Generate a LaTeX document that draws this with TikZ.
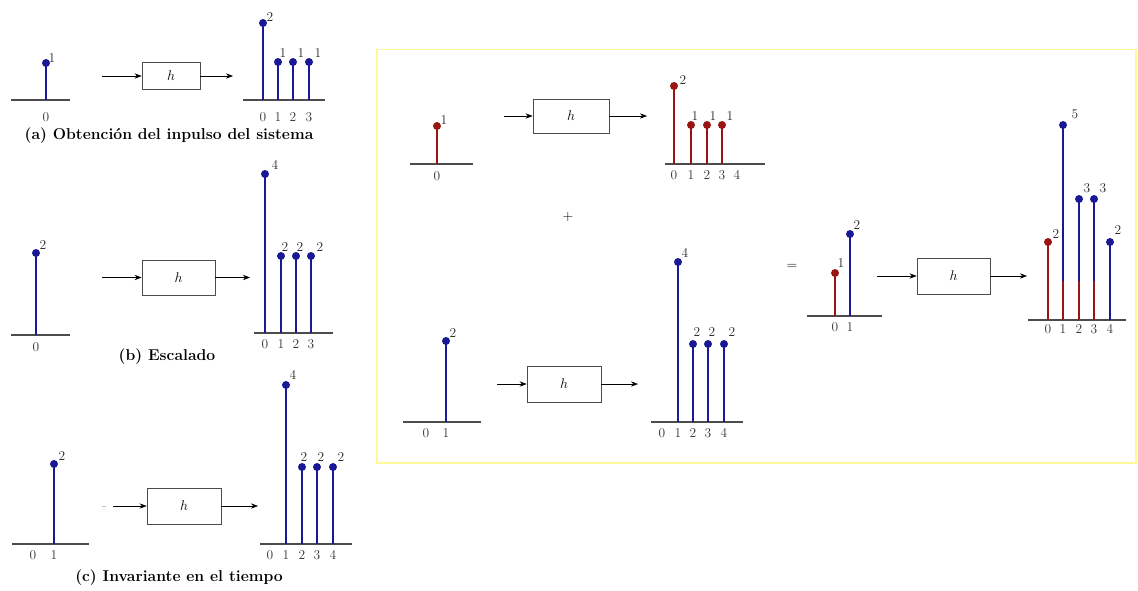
\documentclass[tikz,border=0pt]{standalone}
\usepackage{tikz}
\usetikzlibrary{arrows.meta,positioning}
\definecolor{sigblue}{RGB}{25,25,150}
\definecolor{sigred}{RGB}{155,20,20}
\definecolor{panelyellow}{RGB}{255,248,150}
\tikzset{
    axisline/.style={line width=1.5pt, black!70},
    stemline/.style={line width=2.5pt},
    sysbox/.style={draw=black!70, line width=0.6pt, inner sep=0pt, font=\fontsize{11.5}{14}\selectfont},
    sigarrow/.style={
        line width=0.5pt,
        black,
        ->,
        >={Stealth[length=6pt, width=4.5pt]}
    },
    val/.style={inner sep=0pt, black!85, font=\fontsize{11.5}{14}\selectfont},
    ticklbl/.style={inner sep=0pt, black!80, font=\fontsize{11.5}{14}\selectfont},
    capt/.style={font=\fontsize{13.4}{16}\selectfont\bfseries}
}
% stem from base #4 up to #2 at abscissa #1, colour #3
\newcommand{\stemdot}[4]{%
    \draw[stemline, #3] (#1,#4) -- (#1,#2);
    \fill[#3] (#1,#2) circle (3.4pt);}

\begin{document}
\begin{tikzpicture}[x=0.3mm, y=-0.3mm]
    \useasboundingbox (0,0) rectangle (1138,590);

    % (a) impulse response
    \draw[axisline] (11,100) -- (70,100);
    \stemdot{46}{63}{sigblue}{100}
    \node[val] (vA) at (52,58) {1};
    \node[ticklbl] (tA) at (46,117) {0};
    \node[sysbox, minimum width=17.4mm, minimum height=8.1mm] (hA) at (171,76) {$h$};
    \coordinate (inA) at (102,76);
    \coordinate (outA) at (233,76);
    \draw[sigarrow] (inA) -- (hA.west);
    \draw[sigarrow] (hA.east) -- (outA);
    \draw[axisline] (243,100) -- (325,100);
    \foreach \x/\t/\v/\lx/\ly [count=\i] in {263/23/2/270/17, 278/62/1/283/53, 293/62/1/301/53, 309/62/1/318/53}{
        \stemdot{\x}{\t}{sigblue}{100}
        \node[val] (yA\i) at (\lx,\ly) {\v};
        \node[ticklbl] (nA\i) at (\x,117) {\number\numexpr\i-1\relax};
    }
    \node[capt] (capA) at (169,136) {(a) Obtención del inpulso del sistema};

    % (b) scaling
    \draw[axisline] (11,335) -- (70,335);
    \stemdot{36}{253}{sigblue}{335}
    \node[val] (vB) at (43,245) {2};
    \node[ticklbl] (tB) at (36,347) {0};
    \node[sysbox, minimum width=21.9mm, minimum height=10.5mm] (hB) at (178.5,277.5) {$h$};
    \coordinate (inB) at (102,277.5);
    \coordinate (outB) at (250,277.5);
    \draw[sigarrow] (inB) -- (hB.west);
    \draw[sigarrow] (hB.east) -- (outB);
    \draw[axisline] (254,333) -- (333,333);
    \foreach \x/\t/\v/\lx [count=\i] in {265/174/4/275, 281/256/2/285, 296/256/2/300, 311/256/2/320}{
        \stemdot{\x}{\t}{sigblue}{333}
        \node[val] (yB\i) at (\lx,\t-9) {\v};
        \node[ticklbl] (nB\i) at (\x,344) {\number\numexpr\i-1\relax};
    }
    \node[capt] (capB) at (167,357) {(b) Escalado};

    % (c) time shift
    \draw[axisline] (12,544) -- (89,544);
    \stemdot{54}{464}{sigblue}{544}
    \node[val] (vC) at (62,456) {2};
    \node[ticklbl] (tC0) at (33,555) {0};
    \node[ticklbl] (tC1) at (54,555) {1};
    \draw[black!25, line width=0.5pt] (102,506) -- (106,506);
    \node[sysbox, minimum width=22.2mm, minimum height=10.8mm] (hC) at (184,506) {$h$};
    \coordinate (inC) at (113,506);
    \coordinate (outC) at (258,506);
    \draw[sigarrow] (inC) -- (hC.west);
    \draw[sigarrow] (hC.east) -- (outC);
    \draw[axisline] (260,544) -- (352,544);
    \foreach \x/\t/\v/\lx [count=\i] in {286/385/4/293, 302/467/2/304, 317/467/2/321, 333/467/2/341}{
        \stemdot{\x}{\t}{sigblue}{544}
        \node[val] (yC\i) at (\lx,\t-10) {\v};
    }
    \foreach \x [count=\i from 0] in {270,286,302,317,333}
        \node[ticklbl] (nC\i) at (\x,555) {\i};
    \node[capt] (capC) at (179,578) {(c) Invariante en el tiempo};

    % linearity panel
    \draw[panelyellow, line width=1pt] (377,49.5) rectangle (1136,463);

    % upper row, red input
    \draw[axisline] (410,164) -- (473,164);
    \stemdot{437}{126}{sigred}{164}
    \node[val] (vR) at (444,120) {1};
    \node[ticklbl] (tR) at (437,176) {0};
    \node[sysbox, minimum width=22.8mm, minimum height=10.2mm] (hR) at (571,116) {$h$};
    \coordinate (inR) at (504,116);
    \coordinate (outR) at (647,116);
    \draw[sigarrow] (inR) -- (hR.west);
    \draw[sigarrow] (hR.east) -- (outR);
    \draw[axisline] (665,164) -- (765,164);
    \foreach \x/\t/\v/\lx/\ly [count=\i] in {674/86/2/683/80, 691/125/1/695/116, 707/125/1/713/116, 722/125/1/730/116}{
        \stemdot{\x}{\t}{sigred}{164}
        \node[val] (yR\i) at (\lx,\ly) {\v};
    }
    \foreach \x [count=\i from 0] in {674,691,707,722,737}
        \node[ticklbl] (nR\i) at (\x,175) {\i};
    \node[font=\fontsize{11.5}{14}\selectfont] (plus) at (568,217) {$+$};

    % lower row, blue input
    \draw[axisline] (403,422) -- (481,422);
    \stemdot{446}{341}{sigblue}{422}
    \node[val] (vS) at (453,333) {2};
    \node[ticklbl] (tS0) at (426,433) {0};
    \node[ticklbl] (tS1) at (446,433) {1};
    \node[sysbox, minimum width=22.2mm, minimum height=10.8mm] (hS) at (564,384) {$h$};
    \coordinate (inS) at (497,384);
    \coordinate (outS) at (638,384);
    \draw[sigarrow] (inS) -- (hS.west);
    \draw[sigarrow] (hS.east) -- (outS);
    \draw[axisline] (651,422) -- (743,422);
    \foreach \x/\t/\v/\lx/\ly [count=\i] in {678/262/4/685/253, 693/344/2/697/332, 708/344/2/712/332, 724/344/2/732/332}{
        \stemdot{\x}{\t}{sigblue}{422}
        \node[val] (yS\i) at (\lx,\ly) {\v};
    }
    \foreach \x [count=\i from 0] in {662,678,693,708,724}
        \node[ticklbl] (nS\i) at (\x,433) {\i};

    % sum of both inputs
    \node[font=\fontsize{11.5}{14}\selectfont] (eq) at (792,267) {$=$};
    \draw[axisline] (807,316) -- (882,316);
    \stemdot{835}{273}{sigred}{316}
    \stemdot{850}{234}{sigblue}{316}
    \node[val] (vT0) at (841,263) {1};
    \node[val] (vT1) at (857,225) {2};
    \node[ticklbl] (tT0) at (835,327) {0};
    \node[ticklbl] (tT1) at (850,327) {1};
    \node[sysbox, minimum width=21.9mm, minimum height=10.8mm] (hT) at (953.5,276) {$h$};
    \coordinate (inT) at (877,276);
    \coordinate (outT) at (1027,276);
    \draw[sigarrow] (inT) -- (hT.west);
    \draw[sigarrow] (hT.east) -- (outT);
    \draw[axisline] (1028,320) -- (1126,320);
    \stemdot{1048}{242}{sigred}{320}
    \foreach \x/\t in {1063/125, 1079/199, 1094/199}{
        \stemdot{\x}{\t}{sigblue}{281}
        \draw[stemline, sigred] (\x,320) -- (\x,281);
    }
    \stemdot{1110}{242}{sigblue}{320}
    \foreach \lx/\ly/\v [count=\i] in {1056/234/2, 1075/114/5, 1087/188/3, 1103/188/3, 1118/230/2}
        \node[val] (yT\i) at (\lx,\ly) {\v};
    \foreach \x [count=\i from 0] in {1048,1063,1079,1094,1110}
        \node[ticklbl] (nT\i) at (\x,329) {\i};
\end{tikzpicture}
\end{document}
